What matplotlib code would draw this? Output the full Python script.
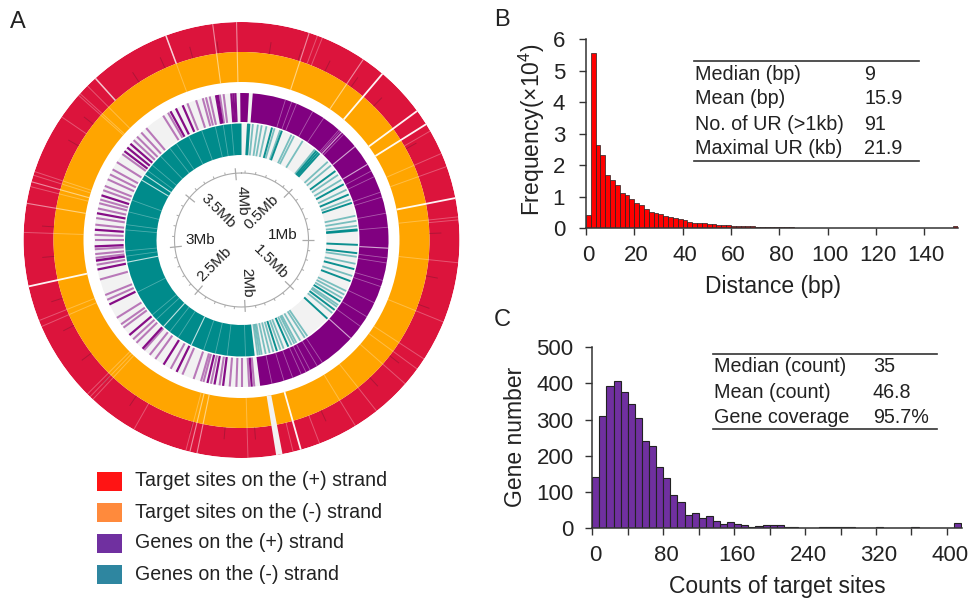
import numpy as np
import matplotlib
matplotlib.use("Agg")
import matplotlib.pyplot as plt
from matplotlib.lines import Line2D
from matplotlib.patches import Rectangle
from matplotlib.transforms import ScaledTranslation

plt.rcParams["font.family"] = ["Liberation Sans", "DejaVu Sans"]
plt.rcParams["mathtext.fontset"] = "custom"
plt.rcParams["mathtext.rm"] = "Liberation Sans"

W, H = 970, 600

# --- panel A, all positions in degrees clockwise from the top ---
ring_strong = [40.3, 53.7, 57.9, 78.9, 164.2, 257.7]
ring_mid = [18.1, 34.0, 191.8, 193.7, 279.7, 285.5, 352.4, 358.7]
ring_faint = [66.6, 70.3, 83.9, 96.0, 112.1, 123.1, 126.3, 131.3, 141.7, 148.5, 178.3, 194.8,
              223.0, 224.0, 225.0, 246.6, 248.3, 272.0, 284.2, 287.3, 288.3, 311.6, 312.2,
              315.0, 339.7]
red_only = [20.4, 21.8, 60.0, 84.7, 159.0, 166.3, 209.6, 304.4]
red_only_strong = [317.9, 339.7]
ring_gap = 170.0
red_peaks = [8.5, 17.5, 26.3, 35.6, 44.6, 61.0, 88.0, 101.0, 110.0, 128.0,
             137.0, 155.0, 176.0, 185.0, 195.0, 214.0, 224.0, 233.0,
             243.0, 252.0, 265.0, 274.0, 300.0, 308.0, 318.0, 327.0, 336.0, 345.0, 353.0]

plus_dense = [(359.5, 3.4), (4.4, 168.3)]
plus_white_strong = [93.2, 132.0, 43.0, 50.5, 59.0]
plus_white_faint = [17.4, 20.0, 22.0, 29.0, 34.0, 41.5, 42.2, 44.0, 62.0, 64.5, 71.0, 73.0,
                    79.5, 85.0, 97.0, 99.0, 106.0, 108.5, 115.3, 121.5, 126.0, 146.6, 149.0,
                    152.2, 154.0, 156.0, 159.6, 163.2, 168.0]
plus_strong = [176.0, 187.2, 190.6, 193.4, 206.2, 212.0, 222.3, 229.7, 244.0, 258.4, 262.0,
               267.5, 274.0, 280.5, 287.7, 307.2, 309.0, 310.9, 331.1, 333.5, 336.4, 350.0,
               350.7, 356.0, 356.8, 357.6]
plus_faint = [175.0, 177.0, 180.0, 182.0, 184.6, 188.6, 192.0, 195.0, 196.0, 199.0, 203.7,
              208.8, 215.9, 218.6, 221.5, 225.6, 227.5, 233.4, 235.0, 238.0, 246.0, 248.0,
              254.4, 260.3, 261.8, 263.0, 264.5, 266.4, 270.0, 272.0, 276.0, 278.6, 282.4,
              284.5, 286.0, 289.8, 291.6, 294.4, 296.5, 298.7, 302.0, 305.8, 312.8, 314.7,
              317.0, 319.6, 327.8, 330.0, 338.4, 342.0, 344.7, 346.0, 347.5, 351.5, 353.0]

minus_dense = [(173.5, 186.5)]
minus_white_strong = [205.6, 222.0, 259.0, 301.0, 304.0]
minus_white_faint = [178.0, 187.1, 193.0, 199.0, 213.0, 218.0, 227.0, 230.0, 243.4, 262.0,
                     264.6, 275.0, 277.6, 284.0, 290.0, 306.5, 310.0, 316.0, 322.0, 326.0,
                     333.0, 340.0, 347.0, 351.0, 355.0]
minus_strong = [3.2, 3.9, 15.2, 20.3, 42.0, 41.0, 40.0, 53.7, 61.4, 67.0, 71.4, 84.8, 85.3,
                92.4, 96.5, 104.5, 110.7, 121.9, 126.9, 132.5, 156.3, 162.3]
minus_faint = [5.6, 8.1, 10.0, 12.4, 16.5, 19.4, 25.4, 26.8, 31.7, 39.0, 47.8, 50.2, 56.0,
               58.9, 64.4, 69.6, 78.0, 80.5, 83.0, 98.3, 101.8, 108.0, 116.0, 118.0, 120.0,
               123.9, 125.0, 128.8, 145.6, 147.1, 149.7, 151.9, 153.0, 154.5, 158.8, 160.5,
               164.1, 166.0, 168.0, 170.0, 171.0, 172.0]

mb_major_deg = [45.0, 90.0, 133.5, 177.0, 220.5, 264.0, 309.0, 355.0]
mb_labels = ["0.5Mb", "1Mb", "1.5Mb", "2Mb", "2.5Mb", "3Mb", "3.5Mb", "4Mb"]
mb_label_deg = [35.8, 83.4, 127.0, 172.4, 228.0, 270.0, 320.7, 0.5]
mb_label_r = [33.7, 41.0, 36.0, 43.0, 36.3, 41.0, 37.5, 39.0]
mb_label_rot = [45, 0, -45, -88, 45, 0, -45, -88]
mb_minor_deg = [3, 12, 21, 30, 38, 54, 63, 72, 81, 99, 107, 116, 125, 142, 151, 160, 168,
                186, 194, 203, 212, 229, 238, 247, 255, 273, 282, 291, 300, 318, 327, 336, 346]

legend_labels = ["Target sites on the (+) strand", "Target sites on the (-) strand",
                 "Genes on the (+) strand", "Genes on the (-) strand"]
legend_colors = ["#FF1414", "#FF8A3C", "#7030A0", "#2E86A0"]

# --- panel B ---
dist_freq = [0.40, 5.57, 2.65, 2.32, 1.70, 1.52, 1.37, 1.11, 1.06, 0.93, 0.78, 0.73, 0.62,
             0.52, 0.48, 0.44, 0.38, 0.34, 0.31, 0.28, 0.26, 0.20, 0.15, 0.17, 0.15, 0.13,
             0.12, 0.10, 0.09, 0.08, 0.07, 0.06, 0.06, 0.05, 0.05, 0.04, 0.035, 0.03, 0.03,
             0.025, 0.02, 0.02, 0.02, 0.015, 0.015, 0.01, 0.01, 0.01, 0.01, 0.01, 0.01, 0.01,
             0.01, 0.01, 0.01, 0.01, 0.01, 0.01, 0.01, 0.01, 0.01, 0.01, 0.01, 0.01, 0.01,
             0.01, 0.01, 0.01, 0.01, 0.01, 0.01, 0.01, 0.01, 0.01, 0.01, 0.01, 0.05]
b_rows = ["Median (bp)", "Mean (bp)", "No. of UR (>1kb)", "Maximal UR (kb)"]
b_vals = ["9", "15.9", "91", "21.9"]

# --- panel C ---
count_genes = [142, 310, 392, 407, 375, 343, 303, 240, 228, 169, 138, 90, 72, 37, 41, 28, 32,
               18, 11, 16, 12, 7, 4, 5, 7, 7, 8, 2, 3, 1, 1, 1, 2, 2, 2, 2, 2, 1, 1, 1, 3, 1,
               1, 1, 1, 2, 1, 1, 1, 1, 1, 15]
c_rows = ["Median (count)", "Mean (count)", "Gene coverage"]
c_vals = ["35", "46.8", "95.7%"]


def fx(x):
    return x / W


def fy(y):
    return 1 - y / H


def ftext(x, y, s, **kw):
    fig.text(fx(x), fy(y), s, va="center", color="#222222", **kw)


def hline(x0, x1, y):
    fig.add_artist(Line2D([fx(x0), fx(x1)], [fy(y), fy(y)], color="#333333", lw=1.2))


def radial(ax, deg, r0, r1, color, lw=1.0, alpha=1.0):
    ax.vlines(np.deg2rad(deg), r0, r1, colors=color, lw=lw, alpha=alpha)


def ring(ax, r0, r1, color):
    ax.bar(np.pi, r1 - r0, width=2 * np.pi, bottom=r0, color=color, linewidth=0)


def spans(ax, items, r0, r1, color):
    for start, width in items:
        ax.bar(np.deg2rad(start + width / 2), r1 - r0, width=np.deg2rad(width), bottom=r0,
               color=color, linewidth=0)


def style_hist(ax, xticks, xlabels, yticks, ypad, xshift):
    for side in ["top", "right"]:
        ax.spines[side].set_visible(False)
    for side in ["left", "bottom"]:
        ax.spines[side].set_color("#333333")
        ax.spines[side].set_linewidth(1.1)
    ax.set_xticks(xticks)
    ax.set_xticklabels(xlabels)
    ax.set_yticks(yticks)
    ax.tick_params(axis="both", labelsize=16, length=5, width=1.0, color="#333333",
                   labelcolor="#222222")
    ax.tick_params(axis="x", pad=7)
    ax.tick_params(axis="y", pad=ypad)
    shift = ScaledTranslation(xshift / 72, 0, fig.dpi_scale_trans)
    for lab in ax.get_xticklabels():
        lab.set_transform(lab.get_transform() + shift)


fig = plt.figure(figsize=(9.7, 6), dpi=100, facecolor="white")

# === A: circular genome map ===
R = 218
ax_a = fig.add_axes([fx(241.5 - R), fy(240 + R), 2 * R / W, 2 * R / H], projection="polar")
ax_a.set_theta_zero_location("N")
ax_a.set_theta_direction(-1)
ax_a.set_ylim(0, R)
ax_a.axis("off")

ring(ax_a, 188, 218, "#DC143C")
ring(ax_a, 158, 188, "#FFA500")
radial(ax_a, red_peaks, 188, 200, "#7a1530", lw=0.7, alpha=0.45)
radial(ax_a, ring_faint, 158, 218, "white", lw=0.7, alpha=0.28)
radial(ax_a, ring_mid, 158, 218, "white", lw=0.8, alpha=0.5)
radial(ax_a, ring_strong, 158, 218, "white", lw=1.3, alpha=0.95)
radial(ax_a, red_only, 188, 218, "white", lw=0.7, alpha=0.28)
radial(ax_a, red_only_strong, 188, 218, "white", lw=1.1, alpha=0.75)
ax_a.bar(np.deg2rad(ring_gap), 60, width=np.deg2rad(1.7), bottom=158, color="#F2F2F2", linewidth=0)

ring(ax_a, 118, 147, "#F2F2F2")
ring(ax_a, 85, 116.5, "#F2F2F2")
spans(ax_a, plus_dense, 118, 147, "#800080")
spans(ax_a, minus_dense, 85, 116.5, "#008B8B")
radial(ax_a, plus_faint, 118, 147, "#800080", lw=1.5, alpha=0.5)
radial(ax_a, plus_strong, 118, 147, "#800080", lw=1.6, alpha=0.95)
radial(ax_a, minus_faint, 85, 116.5, "#008B8B", lw=1.3, alpha=0.5)
radial(ax_a, minus_strong, 85, 116.5, "#008B8B", lw=1.4, alpha=0.95)
radial(ax_a, plus_white_faint, 118, 147, "white", lw=0.6, alpha=0.35)
radial(ax_a, plus_white_strong, 118, 147, "white", lw=0.8, alpha=0.65)
radial(ax_a, minus_white_faint, 85, 116.5, "white", lw=0.6, alpha=0.3)
radial(ax_a, minus_white_strong, 85, 116.5, "white", lw=0.8, alpha=0.75)

theta = np.linspace(0, 2 * np.pi, 361)
ax_a.plot(theta, np.full_like(theta, 67), color="#aaaaaa", lw=0.8)
radial(ax_a, mb_major_deg, 60, 72, "#aaaaaa", lw=0.9)
radial(ax_a, mb_minor_deg, 67, 69.5, "#aaaaaa", lw=0.7)
for deg, r, lab, rot in zip(mb_label_deg, mb_label_r, mb_labels, mb_label_rot):
    ax_a.text(np.deg2rad(deg), r, lab, rotation=rot, rotation_mode="anchor", ha="center",
              va="center", fontsize=11, color="#222222")

for i, (lab, col) in enumerate(zip(legend_labels, legend_colors)):
    y = [481, 512, 543, 574][i]
    fig.add_artist(Rectangle((fx(97), fy(y + 9.5)), 25 / W, 19 / H, facecolor=col,
                             edgecolor="none", transform=fig.transFigure))
    ftext(135, y, lab, fontsize=14.1)

ftext(10, 22, "A", fontsize=17)
ftext(494, 20, "B", fontsize=17)
ftext(494, 320, "C", fontsize=17)

# === B: distance histogram ===
ax_b = fig.add_axes([fx(586), fy(228), (958 - 586) / W, (228 - 39.3) / H])
ax_b.bar(np.arange(len(dist_freq)) * 2, dist_freq, width=2, align="edge", color="#FF0000",
         edgecolor="#222222", linewidth=0.5)
ax_b.set_xlim(0, 154)
ax_b.set_ylim(0, 6)
style_hist(ax_b, list(range(0, 141, 20)), [str(v) for v in range(0, 141, 20)], list(range(7)), 10, 1.5)
fig.text(fx(773), fy(287), "Distance (bp)", ha="center", va="center", fontsize=16.5, color="#222222")
fig.text(fx(532), fy(130), "Frequency(×10$^{4}$)", ha="center", va="center", rotation=90,
         fontsize=16.5, color="#222222")

hline(694, 919, 61)
hline(694, 919, 161)
for y, lab, val in zip([74, 99, 124, 149], b_rows, b_vals):
    ftext(695, y, lab, fontsize=14.2)
    ftext(864, y, val, fontsize=14.2)

# === C: target site histogram ===
ax_c = fig.add_axes([fx(592.3), fy(528), (962 - 592.3) / W, (528 - 347.3) / H])
ax_c.bar(np.arange(len(count_genes)) * 8, count_genes, width=8, align="edge", color="#7030A0",
         edgecolor="#222222", linewidth=0.8)
ax_c.set_xlim(0, 417)
ax_c.set_ylim(0, 500)
c_ticks = list(range(0, 401, 40))
c_ticklabels = [str(v) if v % 80 == 0 else "" for v in c_ticks]
style_hist(ax_c, c_ticks, c_ticklabels, list(range(0, 501, 100)), 8.5, 2.2)
fig.text(fx(777), fy(587), "Counts of target sites", ha="center", va="center", fontsize=16.5, color="#222222")
fig.text(fx(516), fy(437), "Gene number", ha="center", va="center", rotation=90, fontsize=16.5, color="#222222")

hline(713, 937, 353.7)
hline(713, 937, 429)
for y, lab, val in zip([367, 392, 417.7], c_rows, c_vals):
    ftext(714, y, lab, fontsize=14.2)
    ftext(873, y, val, fontsize=14.2)

fig.savefig("out.png", dpi=100, facecolor="white")
